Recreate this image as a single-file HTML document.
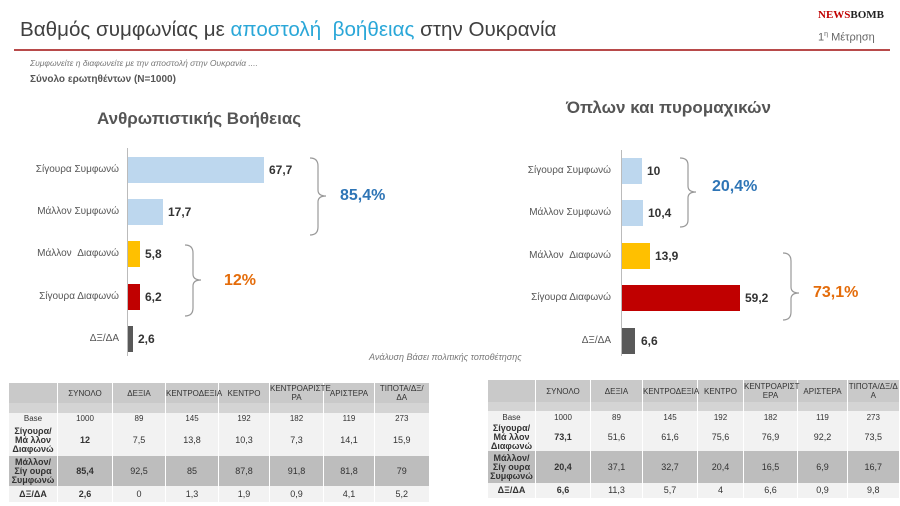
<!DOCTYPE html>
<html><head><meta charset="utf-8"><style>
body{margin:0;width:900px;height:506px;background:#fff;position:relative;overflow:hidden;font-family:"Liberation Sans","Noto Sans CJK SC",sans-serif;color:#444}
.a{position:absolute;white-space:nowrap}
.bar{position:absolute;height:26px}
.lab{position:absolute;font-size:10px;color:#555;text-align:right;width:110px}
.val{position:absolute;font-size:12px;font-weight:bold;color:#333}
table{position:absolute;border-collapse:collapse;table-layout:fixed;font-size:8px;color:#333}
td{text-align:center;padding:0;border-left:1px solid #fff;line-height:9px}
.h td{background:#c9c9c9}
.g td{background:#d4d4d4}
.w td{background:#f2f2f2}
.d td{background:#bdbdbd}
td.b{font-weight:bold}
</style></head><body>
<div class="a" style="left:20px;top:18px;font-size:20.6px;color:#404040">Βαθμός συμφωνίας με <span style="color:#2aa7d8">αποστολή &nbsp;βοήθειας</span> στην Ουκρανία</div>
<div class="a" style="left:818px;top:9px;font-size:11px;font-weight:bold;color:#c00000;font-family:'Liberation Serif',serif">NEWS<span style="color:#222">BOMB</span></div>
<div class="a" style="left:818px;top:31px;font-size:11px;color:#666">1<sup style="font-size:7px">η</sup> Μέτρηση</div>
<div class="a" style="left:14px;top:49px;width:876px;height:2px;background:#b84a4a"></div>
<div class="a" style="left:30px;top:58px;font-size:8.5px;font-style:italic;color:#777">Συμφωνείτε η διαφωνείτε με την αποστολή στην Ουκρανία ....</div>
<div class="a" style="left:30px;top:74px;font-size:10px;font-weight:bold;color:#555">Σύνολο ερωτηθέντων (Ν=1000)</div>
<div class="a" style="left:97px;top:109px;font-size:17px;font-weight:bold;color:#555">Ανθρωπιστικής Βοήθειας</div>
<div class="a" style="left:566px;top:98px;font-size:17px;font-weight:bold;color:#555">Όπλων και πυρομαχικών</div>

<div class="a" style="left:127px;top:148px;width:1px;height:208px;background:#bbb"></div>
<div class="lab" style="left:9px;top:164px">Σίγουρα Συμφωνώ</div>
<div class="lab" style="left:9px;top:206px">Μάλλον Συμφωνώ</div>
<div class="lab" style="left:9px;top:248px">Μάλλον &nbsp;Διαφωνώ</div>
<div class="lab" style="left:9px;top:291px">Σίγουρα Διαφωνώ</div>
<div class="lab" style="left:9px;top:333px">ΔΞ/ΔΑ</div>
<div class="bar" style="left:128px;top:157px;width:136px;background:#bdd7ee"></div>
<div class="bar" style="left:128px;top:199px;width:35px;background:#bdd7ee"></div>
<div class="bar" style="left:128px;top:241px;width:12px;background:#ffc000"></div>
<div class="bar" style="left:128px;top:284px;width:12px;background:#c00000"></div>
<div class="bar" style="left:128px;top:326px;width:5px;background:#595959"></div>
<div class="val" style="left:269px;top:163px">67,7</div>
<div class="val" style="left:168px;top:205px">17,7</div>
<div class="val" style="left:145px;top:247px">5,8</div>
<div class="val" style="left:145px;top:290px">6,2</div>
<div class="val" style="left:138px;top:332px">2,6</div>

<div class="a" style="left:621px;top:150px;width:1px;height:206px;background:#bbb"></div>
<div class="lab" style="left:501px;top:165px">Σίγουρα Συμφωνώ</div>
<div class="lab" style="left:501px;top:207px">Μάλλον Συμφωνώ</div>
<div class="lab" style="left:501px;top:250px">Μάλλον &nbsp;Διαφωνώ</div>
<div class="lab" style="left:501px;top:292px">Σίγουρα Διαφωνώ</div>
<div class="lab" style="left:501px;top:335px">ΔΞ/ΔΑ</div>
<div class="bar" style="left:622px;top:158px;width:20px;background:#bdd7ee"></div>
<div class="bar" style="left:622px;top:200px;width:21px;background:#bdd7ee"></div>
<div class="bar" style="left:622px;top:243px;width:28px;background:#ffc000"></div>
<div class="bar" style="left:622px;top:285px;width:118px;background:#c00000"></div>
<div class="bar" style="left:622px;top:328px;width:13px;background:#595959"></div>
<div class="val" style="left:647px;top:164px">10</div>
<div class="val" style="left:648px;top:206px">10,4</div>
<div class="val" style="left:655px;top:249px">13,9</div>
<div class="val" style="left:745px;top:291px">59,2</div>
<div class="val" style="left:641px;top:334px">6,6</div>

<svg class="a" style="left:0;top:0" width="900" height="506">
<g fill="none" stroke="#999" stroke-width="1.2">
<path d="M310,158 Q318,158 318,166 L318,190 Q318,196 326,196 Q318,196 318,202 L318,227 Q318,235 310,235"/>
<path d="M185,245 Q193,245 193,253 L193,274 Q193,280 201,280 Q193,280 193,286 L193,308 Q193,316 185,316"/>
<path d="M680,158 Q688,158 688,165 L688,186 Q688,192 696,192 Q688,192 688,198 L688,220 Q688,227 680,227"/>
<path d="M783,253 Q791,253 791,261 L791,287 Q791,293 799,293 Q791,293 791,299 L791,312 Q791,320 783,320"/>
</g></svg>
<div class="a" style="left:340px;top:187px;font-size:16px;font-weight:bold;color:#2e75b6">85,4%</div>
<div class="a" style="left:224px;top:272px;font-size:16px;font-weight:bold;color:#e46c0a">12%</div>
<div class="a" style="left:712px;top:178px;font-size:16px;font-weight:bold;color:#2e75b6">20,4%</div>
<div class="a" style="left:813px;top:284px;font-size:16px;font-weight:bold;color:#e46c0a">73,1%</div>
<div class="a" style="left:369px;top:352px;font-size:9px;font-style:italic;color:#777">Ανάλυση Βάσει πολιτικής τοποθέτησης</div>

<table style="left:8px;top:383px;width:420px">
<colgroup><col style="width:49px"><col style="width:55px"><col style="width:53px"><col style="width:53px"><col style="width:51px"><col style="width:54px"><col style="width:51px"><col style="width:54px"></colgroup>
<tr class="h" style="height:20px"><td></td><td>ΣΥΝΟΛΟ</td><td>ΔΕΞΙΑ</td><td>ΚΕΝΤΡΟΔΕΞΙΑ</td><td>ΚΕΝΤΡΟ</td><td>ΚΕΝΤΡΟΑΡΙΣΤΕ ΡΑ</td><td>ΑΡΙΣΤΕΡΑ</td><td>ΤΙΠΟΤΑ/ΔΞ/ΔΑ</td></tr>
<tr class="g" style="height:10px"><td></td><td></td><td></td><td></td><td></td><td></td><td></td><td></td></tr>
<tr class="w" style="height:11px"><td>Base</td><td>1000</td><td>89</td><td>145</td><td>192</td><td>182</td><td>119</td><td>273</td></tr>
<tr class="w" style="height:32px;font-size:9px"><td class="b">Σίγουρα/Μά λλον Διαφωνώ</td><td class="b">12</td><td>7,5</td><td>13,8</td><td>10,3</td><td>7,3</td><td>14,1</td><td>15,9</td></tr>
<tr class="d" style="height:30px;font-size:9px"><td class="b">Μάλλον/Σίγ ουρα Συμφωνώ</td><td class="b">85,4</td><td>92,5</td><td>85</td><td>87,8</td><td>91,8</td><td>81,8</td><td>79</td></tr>
<tr class="w" style="height:16px;font-size:9px"><td class="b">ΔΞ/ΔΑ</td><td class="b">2,6</td><td>0</td><td>1,3</td><td>1,9</td><td>0,9</td><td>4,1</td><td>5,2</td></tr>
</table>

<table style="left:487px;top:380px;width:411px">
<colgroup><col style="width:48px"><col style="width:55px"><col style="width:52px"><col style="width:55px"><col style="width:46px"><col style="width:54px"><col style="width:50px"><col style="width:51px"></colgroup>
<tr class="h" style="height:22px"><td></td><td>ΣΥΝΟΛΟ</td><td>ΔΕΞΙΑ</td><td>ΚΕΝΤΡΟΔΕΞΙΑ</td><td>ΚΕΝΤΡΟ</td><td>ΚΕΝΤΡΟΑΡΙΣΤ ΕΡΑ</td><td>ΑΡΙΣΤΕΡΑ</td><td>ΤΙΠΟΤΑ/ΔΞ/Δ Α</td></tr>
<tr class="g" style="height:9px"><td></td><td></td><td></td><td></td><td></td><td></td><td></td><td></td></tr>
<tr class="w" style="height:12px"><td>Base</td><td>1000</td><td>89</td><td>145</td><td>192</td><td>182</td><td>119</td><td>273</td></tr>
<tr class="w" style="height:28px;font-size:9px"><td class="b">Σίγουρα/Μά λλον Διαφωνώ</td><td class="b">73,1</td><td>51,6</td><td>61,6</td><td>75,6</td><td>76,9</td><td>92,2</td><td>73,5</td></tr>
<tr class="d" style="height:32px;font-size:9px"><td class="b">Μάλλον/Σίγ ουρα Συμφωνώ</td><td class="b">20,4</td><td>37,1</td><td>32,7</td><td>20,4</td><td>16,5</td><td>6,9</td><td>16,7</td></tr>
<tr class="w" style="height:15px;font-size:9px"><td class="b">ΔΞ/ΔΑ</td><td class="b">6,6</td><td>11,3</td><td>5,7</td><td>4</td><td>6,6</td><td>0,9</td><td>9,8</td></tr>
</table>
</body></html>
